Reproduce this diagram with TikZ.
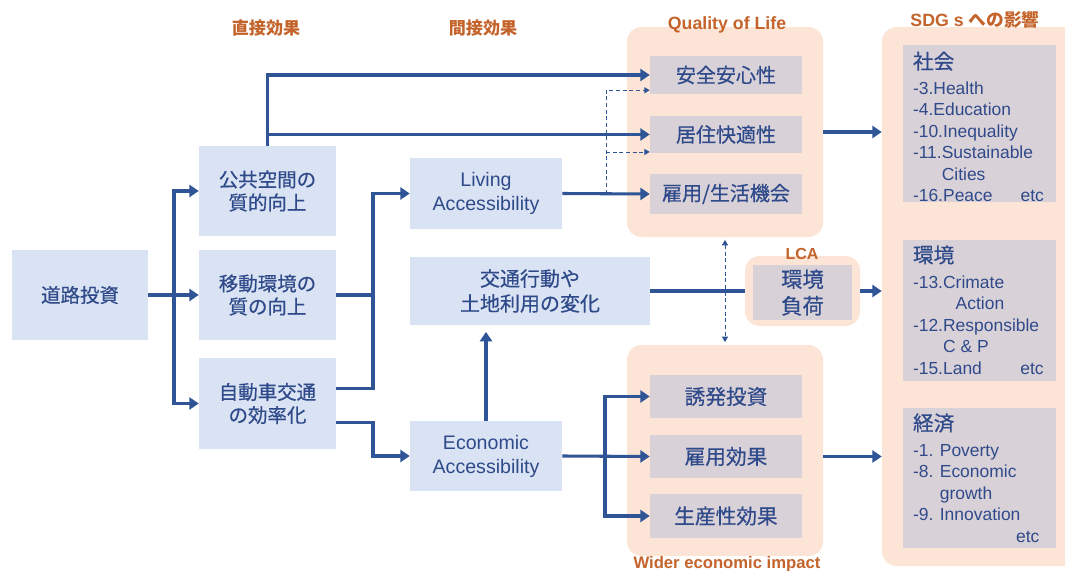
\documentclass[tikz,border=0pt]{standalone}
\usepackage{fontspec}
\setmainfont{Liberation Sans}
\newfontfamily\jp[FakeBold=0.5]{Noto Sans CJK JP}
\newfontfamily\jph{Noto Sans CJK JP}
\usetikzlibrary{arrows.meta}
\definecolor{boxblue}{HTML}{DAE3F3}
\definecolor{txtblue}{HTML}{2F4A8A}
\definecolor{arrblue}{HTML}{2F5597}
\definecolor{panelor}{HTML}{FCE5D6}
\definecolor{greybox}{HTML}{D9D1D8}
\definecolor{orangetxt}{HTML}{C4632A}
\begin{document}
\begin{tikzpicture}[x=0.75pt,y=-0.75pt,
  bbox/.style={fill=boxblue, text=txtblue, align=center, inner sep=0pt, font=\jp\fontsize{14.6}{17.3}\selectfont},
  ebox/.style={fill=boxblue, text=txtblue, align=center, inner sep=0pt, font=\fontsize{14.7}{18}\selectfont},
  gbox/.style={fill=greybox, text=txtblue, align=center, inner sep=0pt, minimum width=114pt, font=\jp\fontsize{15}{18}\selectfont},
  panelbox/.style={fill=panelor, rounded corners=11pt, inner sep=0pt},
  sdgbox/.style={fill=greybox, inner sep=0pt, minimum width=114.75pt},
  sdgtext/.style={text=txtblue, align=left, inner sep=0pt, anchor=north west, font=\fontsize{13.1}{16.1}\selectfont},
  hdr/.style={text=orangetxt, font=\jph\bfseries\fontsize{12.8}{15}\selectfont, inner sep=0pt},
  ttl/.style={text=orangetxt, font=\bfseries\fontsize{13.3}{15}\selectfont, inner sep=0pt},
  line/.style={draw=arrblue, line width=2.3pt},
  arr/.style={line, -{Triangle[length=7pt,width=9pt]}},
  dotarr/.style={draw=arrblue, line width=0.6pt, densely dashed, -{Triangle[length=4pt,width=4.5pt]}},
  dotarrb/.style={draw=arrblue, line width=0.6pt, densely dashed, {Triangle[length=4pt,width=4.5pt]}-{Triangle[length=4pt,width=4.5pt]}}
]
\clip (0,0) rectangle (1065,571);
\fill[white] (0,0) rectangle (1065,571);

% panels
\node[panelbox, minimum width=147pt, minimum height=157.5pt] (qol) at (725,132) {};
\node[panelbox, minimum width=147pt, minimum height=158.25pt] (wei) at (725,450.5) {};
\node[panelbox, minimum width=86.25pt, minimum height=52.5pt] (lcap) at (802.5,291) {};
\node[panelbox, minimum width=148.5pt, minimum height=404.25pt] (sdg) at (981,296.5) {};

% headers
\node[hdr] (h1) at (266,28) {直接効果};
\node[hdr] (h2) at (483,28) {間接効果};
\node[ttl] (h3) at (727,25) {Quality of Life};
\node[ttl] (h4) at (975,20) {SDG s \jph への影響};
\node[ttl, font=\bfseries\fontsize{12.5}{15}\selectfont] (h5) at (727,564) {Wider economic impact};
\node[ttl, font=\bfseries\fontsize{12}{15}\selectfont] (h6) at (802,254) {LCA};

% blue boxes
\node[bbox, minimum width=102pt, minimum height=67.5pt] (road) at (80,295) {道路投資};
\node[bbox, minimum width=102.75pt, minimum height=67.5pt] (kokyo) at (267.5,191) {公共空間の\\質的向上};
\node[bbox, minimum width=102.75pt, minimum height=67.5pt] (ido) at (267.5,295) {移動環境の\\質の向上};
\node[bbox, minimum width=102.75pt, minimum height=68.25pt] (jidosha) at (267.5,403.5) {自動車交通\\の効率化};
\node[ebox, minimum width=114pt, minimum height=53.25pt] (living) at (486,193.5) {Living\\Accessibility};
\node[bbox, font=\jp\fontsize{15}{18.7}\selectfont, minimum width=180pt, minimum height=51pt] (kotsu) at (530,291) {交通行動や\\土地利用の変化};
\node[ebox, minimum width=114pt, minimum height=52.5pt] (econ) at (486,456) {Economic\\Accessibility};

% grey boxes
\node[gbox, minimum height=28.5pt] (anzen) at (726,75) {安全安心性};
\node[gbox, minimum height=27.75pt] (kyoju) at (726,134.5) {居住快適性};
\node[gbox, minimum height=30pt] (koyoq) at (726,194) {雇用/生活機会};
\node[gbox, font=\jp\fontsize{15.5}{18}\selectfont, minimum height=32.25pt] (yuhatsu) at (726,396.5) {誘発投資};
\node[gbox, font=\jp\fontsize{15.5}{18}\selectfont, minimum height=32.25pt] (koyoe) at (726,456.5) {雇用効果};
\node[gbox, font=\jp\fontsize{15.5}{18}\selectfont, minimum height=33pt] (seisan) at (726,516) {生産性効果};
\node[gbox, minimum width=74.25pt, minimum height=41.25pt, font=\jp\fontsize{16}{20}\selectfont] (kankyo) at (802.5,292.5) {環境\\負荷};

% SDG boxes
\node[sdgbox, minimum height=117.75pt] (sdga) at (979.5,123.5) {};
\node[sdgbox, minimum height=105.75pt] (sdgb) at (979.5,310.5) {};
\node[sdgbox, minimum height=105pt] (sdgc) at (979.5,478) {};
\node[sdgtext] (sdgat) at ([xshift=7.5pt,yshift=-5pt]sdga.north west) {{\jp\fontsize{15.5}{18}\selectfont 社会}\\[3pt]-3.Health\\-4.Education\\-10.Inequality\\-11.Sustainable\\\phantom{-11.}Cities\\-16.Peace\hspace{1.6em}etc};
\node[sdgtext] (sdgbt) at ([xshift=7.5pt,yshift=-4pt]sdgb.north west) {{\jp\fontsize{15.5}{18}\selectfont 環境}\\[3pt]-13.Crimate\\\phantom{-13.C}Action\\-12.Responsible\\\phantom{-12.}C \& P\\-15.Land\hspace{2.2em}etc};
\node[sdgtext] (sdgct) at ([xshift=7.5pt,yshift=-4pt]sdgc.north west) {{\jp\fontsize{15.5}{18}\selectfont 経済}\\[3pt]-1. Poverty\\-8. Economic\\\phantom{-8. }growth\\-9. Innovation\\\hspace*{5.9em}etc};

% coordinates
\coordinate (j1) at (174,295);
\coordinate (j2) at (373,295);
\coordinate (d1) at (606,193.5);
\coordinate (e1) at (605,456);
\coordinate (da) at ([yshift=3pt]anzen.south west);
\coordinate (kd) at ([yshift=1pt]kyoju.south west);

% connectors: direct effects
\draw[line] (road.east) -- (j1);
\draw[arr] (j1) |- (kokyo.west);
\draw[arr] (j1) |- (jidosha.west);
\draw[arr] (j1) -- (ido.west);

% public space to QoL
\draw[arr] (kokyo.north) |- (anzen.west);
\draw[arr] (kokyo.north |- kyoju.west) -- (kyoju.west);

% to accessibility
\draw[line] (ido.east) -- (j2);
\draw[arr] ([yshift=11.6pt]jidosha.east) -| (j2) |- (living.west);
\draw[arr] ([yshift=-14pt]jidosha.east) -| (j2 |- econ.west) -- (econ.west);

% living accessibility
\draw[arr] (living.east) -- (koyoq.west);
\draw[dotarr] (d1) |- (da);
\draw[dotarr] (kd -| d1) -- (kd);

% economic accessibility
\draw[arr, shorten >=5pt] (econ.north) -- (econ.north |- kotsu.south);
\draw[arr] (econ.east) -- (koyoe.west);
\draw[arr] (e1) |- (yuhatsu.west);
\draw[arr] (e1) |- (seisan.west);

% travel behaviour to LCA
\draw[line] (kotsu.east) -- (lcap.west);
\draw[dotarrb, shorten <=2pt, shorten >=2pt] (qol.south) -- (wei.north);

% to SDGs
\draw[arr] (qol.east) -- (qol.east -| sdg.west);
\draw[arr] (lcap.east) -- (lcap.east -| sdg.west);
\draw[arr] (wei.east |- koyoe.east) -- (sdg.west |- koyoe.east);
\end{tikzpicture}
\end{document}
